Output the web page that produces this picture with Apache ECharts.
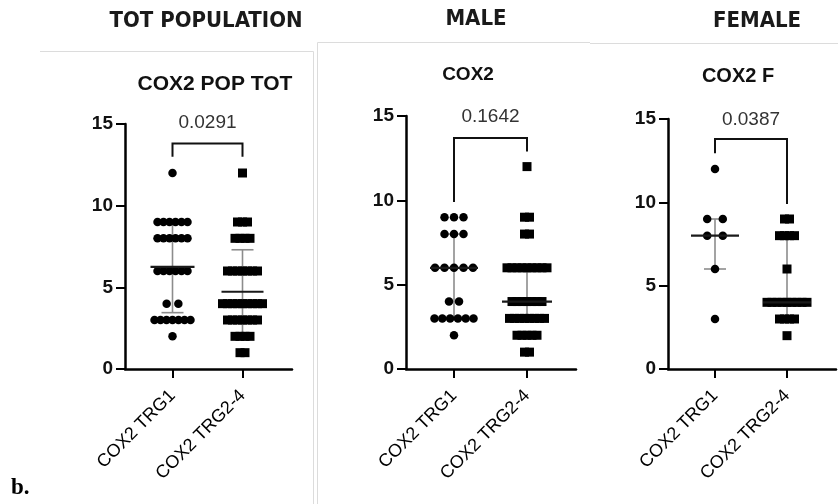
<!DOCTYPE html>
<html><head><meta charset="utf-8">
<script src="https://cdn.jsdelivr.net/npm/echarts@6/dist/echarts.min.js"></script>
<style>html,body{margin:0;padding:0;background:#fff}#c{width:838px;height:504px}</style>
</head><body><div id="c"></div>
<script>
// ---------- data ----------
const categories = ['COX2 TRG1', 'COX2 TRG2-4'];
const panelHeaders = ['TOT POPULATION', 'MALE', 'FEMALE'];
const panelTitles = ['COX2 POP TOT', 'COX2', 'COX2 F'];
const yTicks = [0, 5, 10, 15];
const pValues = ['0.0291', '0.1642', '0.0387'];

const totTRG1 = [12, 9,9,9,9,9,9, 8,8,8,8,8,8, 6,6,6,6,6,6, 4,4, 3,3,3,3,3,3,3, 2];
const totTRG24 = [12, 9,9,9, 8,8,8,8, 6,6,6,6,6,6,6, 4,4,4,4,4,4,4,4,4, 3,3,3,3,3,3,3, 2,2,2,2, 1,1];
const maleTRG1 = [9,9,9, 8,8,8, 6,6,6,6,6, 4,4, 3,3,3,3,3,3, 2];
const maleTRG24 = [12, 9,9, 8,8, 6,6,6,6,6,6,6,6,6, 4,4,4,4,4,4,4, 3,3,3,3,3,3,3,3, 2,2,2,2,2, 1,1];
const femaleTRG1 = [12, 9,9, 8,8, 6, 3];
const femaleTRG24 = [9,9, 8,8,8,8, 6, 4,4,4,4,4,4,4,4,4, 3,3,3,3, 2];

// centre line and whiskers: TOT = mean ± SD, MALE/FEMALE = median with IQR
const totCenter = [6.25, 4.73], totLow = [3.45, 2.2], totHigh = [8.95, 7.3];
const maleCenter = [6, 4], maleLow = [3, 3], maleHigh = [8, 6];
const femaleCenter = [8, 4], femaleLow = [6, 3], femaleHigh = [9, 8];

// ---------- layout / style ----------
const grids = [
  {left:125, top:124, width:167, height:245, cat1:172.5, unit:70},
  {left:406, top:116, width:170, height:253, cat1:454, unit:73},
  {left:668, top:119, width:168, height:250, cat1:715, unit:72}
];
const brackets = [ // [top, left leg end, right leg end, text level]
  [13.8, 13, 13, 15.05],
  [13.7, 9.9, 12.9, 14.95],
  [13.8, 12.95, 9.9, 14.95]
];
const circleStyle = [
  {size:8.5, spacing:6, pair:11.7, maxSpan:40},
  {size:8.5, spacing:9.5, pair:10, maxSpan:39},
  {size:8.5, spacing:9.5, pair:15.6, maxSpan:39}
];
const squareStyle = {size:9, spacing:5, pair:5, maxSpan:60};
const centerHalf = [[22, 21], [24, 25], [24, 24]];
const capHalf = 11;
const FONT = '"Liberation Sans", Arial, sans-serif';

function beeswarm(values, cat, st) {
  const counts = {}; values.forEach(v => counts[v] = (counts[v] || 0) + 1);
  const seen = {};
  return values.map(v => {
    const n = counts[v];
    const i = (seen[v] = (seen[v] || 0) + 1) - 1;
    const s = n === 2 ? st.pair : (n > 1 ? Math.min(st.spacing, st.maxSpan / (n - 1)) : 0);
    return {value: [cat, v], symbolOffset: [(i - (n - 1) / 2) * s, 0]};
  });
}

const groups = [
  [totTRG1, totTRG24, totCenter, totLow, totHigh],
  [maleTRG1, maleTRG24, maleCenter, maleLow, maleHigh],
  [femaleTRG1, femaleTRG24, femaleCenter, femaleLow, femaleHigh]
];

const grid = [], xAxis = [], yAxis = [], series = [];
grids.forEach((g, gi) => {
  grid.push({left: g.left, top: g.top, width: g.width, height: g.height});
  const xmin = 1 - (g.cat1 - g.left) / g.unit;
  const xmax = xmin + g.width / g.unit;
  xAxis.push({
    type: 'value', gridIndex: gi, min: xmin, max: xmax,
    axisLine: {show: true, onZero: false, lineStyle: {color: '#000', width: 2.5}},
    axisTick: {show: true, customValues: [1, 2], length: 9, lineStyle: {color: '#000', width: 2}},
    axisLabel: {customValues: [1, 2], rotate: 45, margin: 24, fontSize: 18, color: '#000', fontFamily: FONT,
      formatter: v => categories[Math.round(v) - 1]},
    splitLine: {show: false}
  });
  yAxis.push({
    type: 'value', gridIndex: gi, min: yTicks[0], max: yTicks[yTicks.length - 1], interval: yTicks[1] - yTicks[0],
    axisLine: {show: true, onZero: false, lineStyle: {color: '#000', width: 2.5}},
    axisTick: {show: true, length: 9, lineStyle: {color: '#000', width: 2}},
    axisLabel: {fontSize: 19, fontWeight: 'bold', color: '#111', margin: 12, fontFamily: FONT},
    splitLine: {show: false}
  });
  const [g1, g2, cen, lo, hi] = groups[gi];
  // whiskers (under points)
  series.push({
    type: 'custom', xAxisIndex: gi, yAxisIndex: gi, z: 1, silent: true,
    data: cen.map((c, i) => [i + 1, c, lo[i], hi[i]]),
    renderItem(params, api) {
      const x = api.value(0);
      const pl = api.coord([x, api.value(2)]), ph = api.coord([x, api.value(3)]);
      const st = {stroke: '#8c8c8c', lineWidth: 1.6};
      return {type: 'group', children: [
        {type: 'line', shape: {x1: pl[0], y1: pl[1], x2: ph[0], y2: ph[1]}, style: st},
        {type: 'line', shape: {x1: pl[0] - capHalf, y1: pl[1], x2: pl[0] + capHalf, y2: pl[1]}, style: st},
        {type: 'line', shape: {x1: ph[0] - capHalf, y1: ph[1], x2: ph[0] + capHalf, y2: ph[1]}, style: st}
      ]};
    }
  });
  series.push({
    type: 'scatter', xAxisIndex: gi, yAxisIndex: gi, z: 2, symbol: 'circle',
    symbolSize: circleStyle[gi].size, itemStyle: {color: '#000', opacity: 1},
    data: beeswarm(g1, 1, circleStyle[gi])
  });
  series.push({
    type: 'scatter', xAxisIndex: gi, yAxisIndex: gi, z: 2, symbol: 'rect',
    symbolSize: squareStyle.size, itemStyle: {color: '#000', opacity: 1},
    data: beeswarm(g2, 2, squareStyle)
  });
  // centre line (on top)
  series.push({
    type: 'custom', xAxisIndex: gi, yAxisIndex: gi, z: 3, silent: true,
    data: cen.map((c, i) => [i + 1, c]),
    renderItem(params, api) {
      const p = api.coord([api.value(0), api.value(1)]);
      const h = centerHalf[gi][params.dataIndex];
      return {type: 'line', shape: {x1: p[0] - h, y1: p[1], x2: p[0] + h, y2: p[1]},
        style: {stroke: '#1a1a1a', lineWidth: 2.2}};
    }
  });
  // significance bracket + p value
  series.push({
    type: 'custom', xAxisIndex: gi, yAxisIndex: gi, z: 3, silent: true,
    data: [[1, 2]],
    renderItem(params, api) {
      const b = brackets[gi];
      const a1 = api.coord([1, b[1]]), t1 = api.coord([1, b[0]]);
      const a2 = api.coord([2, b[2]]), t2 = api.coord([2, b[0]]);
      const tp = api.coord([1.5, b[3]]);
      return {type: 'group', children: [
        {type: 'polyline', shape: {points: [a1, t1, t2, a2]}, style: {stroke: '#111', lineWidth: 2, fill: null}},
        {type: 'text', style: {text: pValues[gi], x: tp[0], y: tp[1], align: 'center', verticalAlign: 'middle',
          fontSize: 19, fontFamily: FONT, fill: '#333'}}
      ]};
    }
  });
});

const hdrFont = '"DejaVu Sans Condensed", sans-serif';
const hdr = (text, x, y) => ({type: 'text', x, y, style: {text, align: 'center', verticalAlign: 'middle',
  fontSize: 22, fontWeight: 'bold', fontFamily: hdrFont, fill: '#1a1a1a'}});
const graphic = [
  {type: 'line', shape: {x1: 40, y1: 51.5, x2: 313.5, y2: 51.5}, style: {stroke: '#dcdcdc', lineWidth: 1}},
  {type: 'line', shape: {x1: 313.5, y1: 51.5, x2: 313.5, y2: 504}, style: {stroke: '#dcdcdc', lineWidth: 1}},
  {type: 'line', shape: {x1: 317.5, y1: 42.5, x2: 590, y2: 42.5}, style: {stroke: '#dcdcdc', lineWidth: 1}},
  {type: 'line', shape: {x1: 317.5, y1: 42.5, x2: 317.5, y2: 504}, style: {stroke: '#dcdcdc', lineWidth: 1}},
  {type: 'line', shape: {x1: 590, y1: 43.5, x2: 838, y2: 43.5}, style: {stroke: '#dcdcdc', lineWidth: 1}},
  hdr(panelHeaders[0], 206, 21), hdr(panelHeaders[1], 476, 19), hdr(panelHeaders[2], 757, 21),
  {type: 'text', x: 215, y: 84, style: {text: panelTitles[0], align: 'center', verticalAlign: 'middle', fontSize: 21, fontWeight: 'bold', fontFamily: FONT, fill: '#111'}},
  {type: 'text', x: 468, y: 75, style: {text: panelTitles[1], align: 'center', verticalAlign: 'middle', fontSize: 19, fontWeight: 'bold', fontFamily: FONT, fill: '#111'}},
  {type: 'text', x: 738, y: 76, style: {text: panelTitles[2], align: 'center', verticalAlign: 'middle', fontSize: 20, fontWeight: 'bold', fontFamily: FONT, fill: '#111'}},
  {type: 'text', x: 11, y: 488, style: {text: 'b.', align: 'left', verticalAlign: 'middle', fontSize: 23, fontWeight: 'bold', fontFamily: '"Liberation Serif", "Times New Roman", serif', fill: '#000'}}
];

const chart = echarts.init(document.getElementById('c'), null, {renderer: 'canvas'});
chart.setOption({backgroundColor: '#fff', animation: false, grid, xAxis, yAxis, series, graphic});
</script></body></html>
